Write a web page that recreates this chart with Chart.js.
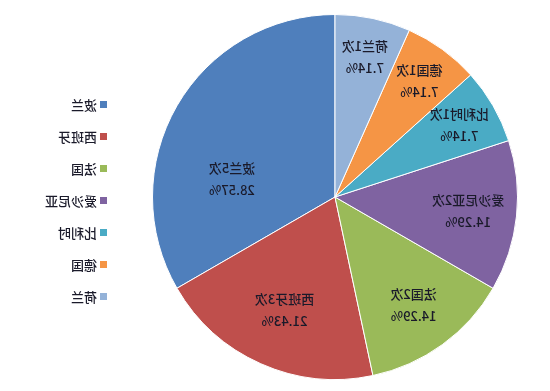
<!DOCTYPE html>
<html>
<head>
<meta charset="utf-8">
<script src="https://cdn.jsdelivr.net/npm/chart.js@4/dist/chart.umd.min.js"></script>
<style>
  html, body { margin: 0; padding: 0; background: #fff; }
  /* the reference picture is a mirrored scan, so flip the whole drawing */
  #wrap { width: 550px; height: 391px; transform: scaleX(-1); }
</style>
</head>
<body>
<div id="wrap"><canvas id="pie" width="550" height="391"></canvas></div>
<script>
// Data
const countries = ['波兰', '西班牙', '法国', '爱沙尼亚', '比利时', '德国', '荷兰'];
const counts = [5, 3, 2, 2, 1, 1, 1];
const percents = ['28.57%', '21.43%', '14.29%', '14.29%', '7.14%', '7.14%', '7.14%'];
const colors = ['#4f7fbc', '#bf4f4c', '#9aba59', '#7f63a1', '#4aabc5', '#f59545', '#94b2d8'];

const FONT = '"Noto Sans CJK SC", "Noto Sans", sans-serif';

// labels inside each slice: "名称N次" and the percent below
const sliceLabels = {
    id: 'sliceLabels',
    afterDatasetsDraw(chart) {
        const ctx = chart.ctx;
        const arcs = chart.getDatasetMeta(0).data;
        const total = counts.reduce((a, b) => a + b, 0);
        ctx.save();
        ctx.fillStyle = '#1a1a2a';
        ctx.font = '500 13px ' + FONT;
        ctx.textAlign = 'center';
        ctx.textBaseline = 'middle';
        arcs.forEach((arc, i) => {
            const p = arc.getProps(['x', 'y', 'startAngle', 'endAngle', 'outerRadius'], true);
            // big slices keep their label nearer the centre, turned a bit clockwise
            const share = counts[i] / total;
            const mid = (p.startAngle + p.endAngle) / 2 + (share > 0.2 ? 0.35 : 0);
            const f = 0.84 - 0.8 * share;
            const cx = p.x + Math.cos(mid) * p.outerRadius * f;
            const cy = p.y + Math.sin(mid) * p.outerRadius * f;
            ctx.fillText(countries[i] + counts[i] + '次', cx, cy - 11);
            ctx.fillText(percents[i], cx, cy + 11);
        });
        ctx.restore();
    }
};

// simple legend at the right, square + name
const sideLegend = {
    id: 'sideLegend',
    afterDraw(chart) {
        const ctx = chart.ctx;
        ctx.save();
        ctx.font = '500 13px ' + FONT;
        ctx.textBaseline = 'middle';
        ctx.textAlign = 'left';
        countries.forEach((name, i) => {
            const y = 105 + i * 32;
            ctx.fillStyle = colors[i];
            ctx.fillRect(443, y - 4, 7, 7);
            ctx.fillStyle = '#1a1a2a';
            ctx.fillText(name, 453, y);
        });
        ctx.restore();
    }
};

new Chart(document.getElementById('pie'), {
    type: 'pie',
    data: {
        labels: countries,
        datasets: [{
            data: counts,
            backgroundColor: colors,
            borderColor: '#ffffff',
            borderWidth: 1
        }]
    },
    options: {
        responsive: false,
        devicePixelRatio: 1,
        animation: false,
        layout: { padding: { left: 32, right: 152, top: 14, bottom: 11 } },
        plugins: {
            legend: { display: false },
            tooltip: { enabled: false }
        }
    },
    plugins: [sliceLabels, sideLegend]
});
</script>
</body>
</html>
